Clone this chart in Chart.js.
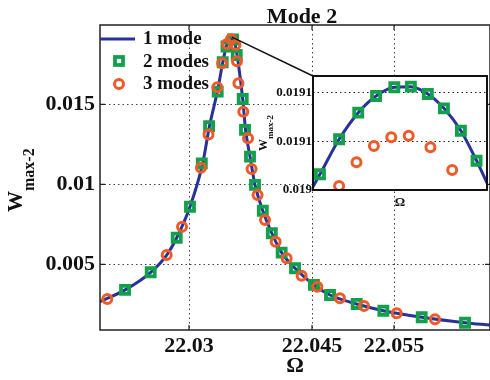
<!DOCTYPE html>
<html>
<head>
<meta charset="utf-8">
<script src="https://cdn.jsdelivr.net/npm/chart.js@4.4.0/dist/chart.umd.min.js"></script>
<style>
html, body { margin: 0; padding: 0; background: #fff; }
#wrap { position: relative; width: 490px; height: 380px; overflow: hidden; }
#main_canvas { position: absolute; left: 0; top: 0; }
#inset_canvas { position: absolute; left: 250px; top: 62px; }
</style>
</head>
<body>
<div id="wrap">
  <canvas id="main_canvas" width="490" height="380"></canvas>
  <canvas id="inset_canvas" width="240" height="150"></canvas>
</div>
<script>
// MAIN CHART DATA
const omega_ticks = [22.03, 22.045, 22.055]
const omega_tick_labels = ['22.03', '22.045', '22.055']
const w_ticks = [0.005, 0.01, 0.015]
const w_tick_labels = ['0.005', '0.01', '0.015']

// 1 mode (solid curve)
const mode1_omega = [22.01915, 22.0222, 22.02533, 22.02728, 22.0285, 22.03012, 22.03167, 22.03248, 22.0335, 22.03411,
    22.03457, 22.03512, 22.03567, 22.03604, 22.03655, 22.03689, 22.03744, 22.03805, 22.039, 22.0401,
    22.0413, 22.04293, 22.04524, 22.0472, 22.05045, 22.0537, 22.05838, 22.06366, 22.0667]
const mode1_w = [0.00266, 0.0034, 0.0045, 0.00558, 0.00666, 0.0086, 0.01131, 0.0136, 0.0159, 0.0176,
    0.01864, 0.0191, 0.01864, 0.01746, 0.01533, 0.01344, 0.01173, 0.00996, 0.00835, 0.00694,
    0.00573, 0.00475, 0.00371, 0.00308, 0.00252, 0.0021, 0.00169, 0.00135, 0.0012]

// 2 modes (squares)
const mode2_omega = [22.0222, 22.02533, 22.0285, 22.03012, 22.03156, 22.03245, 22.0335, 22.03411, 22.03457, 22.03537,
    22.03582, 22.03655, 22.03683, 22.03744, 22.03805, 22.039, 22.0401, 22.0413, 22.04293, 22.04524,
    22.0472, 22.05045, 22.0537, 22.05838, 22.06366]
const mode2_w = [0.0034, 0.0045, 0.00666, 0.0086, 0.01131, 0.01364, 0.01579, 0.01763, 0.01861, 0.01905,
    0.01808, 0.01533, 0.0134, 0.01173, 0.00996, 0.00835, 0.00694, 0.00573, 0.00475, 0.00371,
    0.00308, 0.00252, 0.0021, 0.00169, 0.00135]

// 3 modes (circles)
const mode3_omega = [22.02004, 22.02728, 22.02915, 22.03146, 22.03238, 22.03345, 22.03403, 22.03463, 22.03512, 22.03567,
    22.03585, 22.03603, 22.03662, 22.0372, 22.03763, 22.03836, 22.03927, 22.04057, 22.04191, 22.04374,
    22.04565, 22.04841, 22.05134, 22.05533, 22.06]
const mode3_w = [0.00283, 0.00558, 0.00735, 0.01104, 0.01311, 0.01606, 0.01756, 0.01877, 0.01908, 0.01871,
    0.01769, 0.01631, 0.01454, 0.01288, 0.01096, 0.00933, 0.00777, 0.00641, 0.00538, 0.00429,
    0.0036, 0.00288, 0.00239, 0.00194, 0.00156]

// INSET DATA (close-up of the peak)
const inset_w_ticks = [0.019, 0.01905, 0.0191]
const inset_w_tick_labels = ['0.019', '0.0191', '0.0191']

const inset1_omega = [22.0349, 22.034916, 22.03496, 22.035004, 22.035045, 22.035087, 22.035125, 22.035164, 22.035201, 22.03524, 22.035276, 22.0353]
const inset1_w = [0.0190034, 0.0190162, 0.0190523, 0.0190797, 0.0190969, 0.0191059, 0.0191065, 0.019099, 0.0190842, 0.0190611, 0.0190302, 0.0190072]

const inset2_omega = [22.034916, 22.03496, 22.035004, 22.035045, 22.035087, 22.035125, 22.035164, 22.035201, 22.03524, 22.035276]
const inset2_w = [0.0190162, 0.0190523, 0.0190797, 0.0190969, 0.0191059, 0.0191065, 0.019099, 0.0190842, 0.0190611, 0.0190302]

const inset3_omega = [22.03496, 22.0350, 22.03504, 22.03508, 22.03512, 22.03517, 22.03522]
const inset3_w = [0.0190041, 0.0190286, 0.0190454, 0.0190543, 0.019056, 0.019044, 0.0190206]

const blue = '#28329a'
const green = '#14a04b'
const orange = '#f05a28'
const ink = '#111'
const serif = "'Liberation Serif', 'Times New Roman', serif"

// inset frame position on the page
const inset_box = {left: 313, top: 76, right: 487, bottom: 190}
const inset_offset = {left: 250, top: 62}

function pts(xs, ys) {
    return xs.map((x, i) => ({x: x, y: ys[i]}))
}

function marker(ctx, style, x, y) {
    ctx.save()
    if (style == 'rect') {
        ctx.lineWidth = 3.8
        ctx.strokeStyle = green
        ctx.strokeRect(x - 4, y - 4, 8, 8)
    } else {
        ctx.lineWidth = 3
        ctx.strokeStyle = orange
        ctx.beginPath()
        ctx.arc(x, y, 4.5, 0, Math.PI * 2)
        ctx.stroke()
    }
    ctx.restore()
}

function rotated_label(ctx, x, y, big, small, sub_shift) {
    ctx.save()
    ctx.translate(x, y)
    ctx.rotate(-Math.PI / 2)
    ctx.fillStyle = ink
    ctx.textAlign = 'left'
    ctx.textBaseline = 'alphabetic'
    ctx.font = 'bold ' + big + 'px ' + serif
    ctx.fillText('W', 0, 0)
    const w = ctx.measureText('W').width
    ctx.font = 'bold ' + small + 'px ' + serif
    ctx.fillText('max-2', w, sub_shift)
    ctx.restore()
}

const frame_plugin = {
    id: 'frame',
    afterDraw(chart) {
        const ctx = chart.ctx
        const a = chart.chartArea
        const xs = chart.scales.x
        const ys = chart.scales.y
        ctx.save()
        // box
        ctx.strokeStyle = '#222'
        ctx.lineWidth = 1.5
        ctx.strokeRect(a.left, a.top, a.right - a.left, a.bottom - a.top)
        // inward ticks on all four sides
        ctx.lineWidth = 1.2
        ctx.beginPath()
        omega_ticks.forEach(v => {
            const px = xs.getPixelForValue(v)
            ctx.moveTo(px, a.bottom); ctx.lineTo(px, a.bottom - 5)
            ctx.moveTo(px, a.top); ctx.lineTo(px, a.top + 5)
        })
        w_ticks.forEach(v => {
            const py = ys.getPixelForValue(v)
            ctx.moveTo(a.left, py); ctx.lineTo(a.left + 5, py)
            ctx.moveTo(a.right, py); ctx.lineTo(a.right - 5, py)
        })
        ctx.stroke()

        // title
        ctx.fillStyle = ink
        ctx.font = 'bold 22px ' + serif
        ctx.textAlign = 'center'
        ctx.textBaseline = 'alphabetic'
        ctx.fillText('Mode 2', 302, 23)

        // y axis label with subscript
        rotated_label(ctx, 22, 212, 21, 16, 12)

        // legend
        ctx.strokeStyle = blue
        ctx.lineWidth = 3
        ctx.beginPath()
        ctx.moveTo(a.left, 39)
        ctx.lineTo(a.left + 35, 39)
        ctx.stroke()
        marker(ctx, 'rect', 119, 61)
        marker(ctx, 'circle', 119, 84)
        ctx.fillStyle = ink
        ctx.font = 'bold 19px ' + serif
        ctx.textAlign = 'left'
        const names = chart.data.datasets.map(d => d.label).reverse()
        names.forEach((n, i) => ctx.fillText(n, 143, 44 + i * 22.5))

        // connector from the peak to the inset corner
        const k = mode1_w.indexOf(Math.max(...mode1_w))
        ctx.strokeStyle = '#111'
        ctx.lineWidth = 1.5
        ctx.beginPath()
        ctx.moveTo(xs.getPixelForValue(mode1_omega[k]) + 1, ys.getPixelForValue(mode1_w[k]) - 1.5)
        ctx.lineTo(inset_box.left, inset_box.top)
        ctx.stroke()
        ctx.restore()
    }
}

const tick_font = {family: serif, size: 22, weight: 'bold'}

function make_datasets(o1, w1, o2, w2, o3, w3) {
    return [
        {
            label: '3 modes',
            data: pts(o3, w3),
            showLine: false,
            pointStyle: 'circle',
            pointRadius: 4.5,
            pointBorderWidth: 3,
            borderColor: orange,
            backgroundColor: 'rgba(0,0,0,0)',
            order: 1,
        },
        {
            label: '2 modes',
            data: pts(o2, w2),
            showLine: false,
            pointStyle: 'rect',
            pointRadius: 5.7,
            pointBorderWidth: 3.8,
            borderColor: green,
            backgroundColor: 'rgba(0,0,0,0)',
            order: 2,
        },
        {
            label: '1 mode',
            data: pts(o1, w1),
            showLine: true,
            borderColor: blue,
            borderWidth: 3,
            pointRadius: 0,
            cubicInterpolationMode: 'monotone',
            order: 3,
        },
    ]
}

const main_config = {
    type: 'scatter',
    data: {datasets: make_datasets(mode1_omega, mode1_w, mode2_omega, mode2_w, mode3_omega, mode3_w)},
    options: {
        responsive: false,
        animation: false,
        events: [],
        layout: {autoPadding: false, padding: {top: 25, right: 0, left: 0, bottom: 0}},
        plugins: {legend: {display: false}, tooltip: {enabled: false}},
        scales: {
            x: {
                type: 'linear',
                min: 22.019146,
                max: 22.066707,
                afterBuildTicks: ax => { ax.ticks = omega_ticks.map(v => ({value: v})) },
                afterFit: ax => { ax.height = 50 },
                ticks: {autoSkip: false, maxRotation: 0, padding: 3, color: ink, font: tick_font,
                    callback: (v, i) => omega_tick_labels[i]},
                grid: {color: '#444', lineWidth: 1, drawTicks: false},
                border: {display: false, dash: [1.5, 3]},
                title: {display: true, text: 'Ω', color: ink, font: {family: serif, size: 22, weight: 'bold'}, padding: {top: 0, bottom: 0}},
            },
            y: {
                type: 'linear',
                min: 0.000894,
                max: 0.019956,
                afterBuildTicks: ax => { ax.ticks = w_ticks.map(v => ({value: v})) },
                afterFit: ax => { ax.width = 100 },
                ticks: {autoSkip: false, padding: 5, color: ink, font: tick_font,
                    callback: (v, i) => w_tick_labels[i]},
                grid: {color: '#444', lineWidth: 1, drawTicks: false},
                border: {display: false, dash: [1.5, 3]},
            },
        },
    },
    plugins: [frame_plugin],
}
const main_canvas = document.getElementById('main_canvas')
const main_chart = new Chart(main_canvas, main_config)

// INSET CHART
const inset_plugin = {
    id: 'inset_frame',
    beforeDraw(chart) {
        const a = chart.chartArea
        chart.ctx.save()
        chart.ctx.fillStyle = '#fff'
        chart.ctx.fillRect(a.left, a.top, a.right - a.left, a.bottom - a.top)
        chart.ctx.restore()
    },
    afterDraw(chart) {
        const ctx = chart.ctx
        const a = chart.chartArea
        ctx.save()
        ctx.strokeStyle = '#111'
        ctx.lineWidth = 2
        ctx.strokeRect(a.left, a.top, a.right - a.left, a.bottom - a.top)
        rotated_label(ctx, 267 - inset_offset.left, 151 - inset_offset.top, 12, 9, 6)
        ctx.restore()
    }
}

const inset_config = {
    type: 'scatter',
    data: {datasets: make_datasets(inset1_omega, inset1_w, inset2_omega, inset2_w, inset3_omega, inset3_w)},
    options: {
        responsive: false,
        animation: false,
        events: [],
        layout: {autoPadding: false, padding: {
            top: inset_box.top - inset_offset.top,
            right: 240 - (inset_box.right - inset_offset.left),
            left: 0, bottom: 0}},
        plugins: {legend: {display: false}, tooltip: {enabled: false}},
        scales: {
            x: {
                type: 'linear',
                min: 22.0349,
                max: 22.0353,
                afterFit: ax => { ax.height = 150 - (inset_box.bottom - inset_offset.top) },
                ticks: {display: false},
                grid: {display: false},
                border: {display: false},
                title: {display: true, text: 'Ω', color: ink, font: {family: serif, size: 13, weight: 'bold'}, padding: {top: 0, bottom: 2}},
            },
            y: {
                type: 'linear',
                min: 0.019,
                max: 0.0191175,
                afterBuildTicks: ax => { ax.ticks = inset_w_ticks.map(v => ({value: v})) },
                afterFit: ax => { ax.width = inset_box.left - inset_offset.left },
                ticks: {autoSkip: false, padding: 1, color: ink, font: {family: serif, size: 13, weight: 'bold'},
                    callback: (v, i) => inset_w_tick_labels[i]},
                grid: {color: '#222', lineWidth: 1, drawTicks: false},
                border: {display: false, dash: [1.5, 3]},
            },
        },
    },
    plugins: [inset_plugin],
}
const inset_canvas = document.getElementById('inset_canvas')
const inset_chart = new Chart(inset_canvas, inset_config)
</script>
</body>
</html>
